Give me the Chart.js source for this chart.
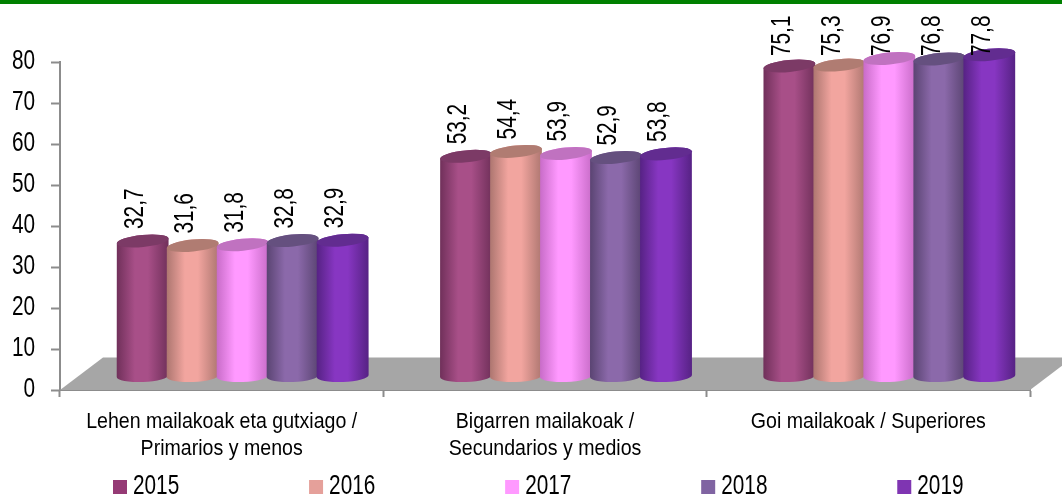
<!DOCTYPE html>
<html><head><meta charset="utf-8">
<style>html,body{margin:0;padding:0;background:#fff;overflow:hidden}
#wrap{position:relative;width:1062px;height:494px}
#band{position:absolute;left:0;top:0;width:1062px;height:4px;background:#008000;z-index:2}
canvas{position:absolute;left:0;top:0}</style>
<script src="https://cdn.jsdelivr.net/npm/chart.js@4"></script></head>
<body><div id="wrap"><div id="band"></div><canvas id="c" width="1062" height="494"></canvas></div>
<script>
const categories=[["Lehen mailakoak eta gutxiago /","Primarios y menos"],["Bigarren mailakoak /","Secundarios y medios"],"Goi mailakoak / Superiores"];
const years=["2015","2016","2017","2018","2019"];
const v2015=[32.7,53.2,75.1];
const v2016=[31.6,54.4,75.3];
const v2017=[31.8,53.9,76.9];
const v2018=[32.8,52.9,76.8];
const v2019=[32.9,53.8,77.8];
const seriesValues=[v2015,v2016,v2017,v2018,v2019];
const legendColors=["#953a75","#e5a09a","#ff99ff","#8064a2","#7f35b2"];
const centerColors=["#a84f88","#f2a59f","#ff99ff","#8b69aa","#8736c2"];
const edgeColors=["#70305a","#ad7670","#c86cc8","#5a4472","#562284"];
const topColors=["#7c3a66","#b07c72","#c072c0","#65507f","#622c90"];
const FONT="'Liberation Sans',Arial,sans-serif";
const fmt=n=>n.toFixed(1).replace('.',',');

// The reference text is horizontally condensed Arial: squeeze every string about its anchor.
const cv=document.getElementById('c');
const rawCtx=cv.getContext('2d');
const origFill=rawCtx.fillText.bind(rawCtx);
rawCtx.fillText=function(t,x,y){
  const dx=(years.includes(t)&&y>465)?-7.5:0;
  const sx=parseInt(rawCtx.font)>=26?0.77:0.89;
  rawCtx.save();rawCtx.translate(x+dx,y);rawCtx.scale(sx,1);origFill(t,0,0);rawCtx.restore();
};

const floorPlugin={id:'floor',
 beforeLayout(chart){const l=chart.legend;if(l&&!l._patched){l._patched=true;const f=l.fit;
   l.fit=function(){this.maxWidth=3000;f.call(this);this.width=1062;this.height=30;};}},
 afterLayout(chart){const l=chart.legend;if(l){const p=l.options.labels.padding;l.top=473.5-p;l.left=113-p;l.right=3000;}},
 beforeDatasetsDraw(chart){const a=chart.chartArea,c=chart.ctx;c.save();c.fillStyle='#a6a6a6';c.beginPath();
  c.moveTo(a.left,a.bottom);c.lineTo(a.left+43,a.bottom-32.5);c.lineTo(a.right+43,a.bottom-32.5);c.lineTo(a.right,a.bottom);c.closePath();c.fill();c.restore();}
};
const cylPlugin={id:'cyl',
 afterDatasetsDraw(chart){const c=chart.ctx,y0=chart.scales.y.getPixelForValue(0);
  const rx0=26,ry=6;
  chart.data.datasets.forEach((ds,di)=>{
   chart.getDatasetMeta(di).data.forEach((el,i)=>{
    const cx=el.x+21,base=y0-14,top=base-(y0-el.y)*1.007;
    const g=c.createLinearGradient(cx-rx0,0,cx+rx0,0);
    g.addColorStop(0,edgeColors[di]);g.addColorStop(0.35,centerColors[di]);g.addColorStop(0.6,centerColors[di]);g.addColorStop(1,edgeColors[di]);
    c.save();c.fillStyle=g;c.beginPath();
    const rt=-0.1,rb=-0.04;
    c.ellipse(cx,top,rx0,ry,rt,Math.PI,0,false);
    c.ellipse(cx,base,rx0,ry,rb,0,Math.PI,false);
    c.closePath();c.fill();
    c.fillStyle=topColors[di];c.beginPath();c.ellipse(cx,top,rx0,ry,rt,0,Math.PI*2);c.fill();
    c.restore();
   });
  });
  chart.data.datasets.forEach((ds,di)=>{
   chart.getDatasetMeta(di).data.forEach((el,i)=>{
    const cx=el.x+21,base=y0-14,top=base-(y0-el.y)*1.007;
    c.save();c.translate(cx-7,Math.max(top-12,56));c.rotate(-Math.PI/2);c.font="27px "+FONT;c.fillStyle='#000';c.textAlign='left';c.textBaseline='middle';
    c.fillText(fmt(ds.data[i]),0,0);c.restore();
   });
  });
 }
};
new Chart(cv,{
 type:'bar',
 data:{labels:categories,datasets:years.map((y,i)=>({label:y,data:seriesValues[i],backgroundColor:'transparent',borderWidth:0,hoverBackgroundColor:'transparent'}))},
 plugins:[floorPlugin,cylPlugin],
 options:{responsive:false,animation:false,devicePixelRatio:1,
  datasets:{bar:{categoryPercentage:0.773,barPercentage:1}},
  layout:{padding:{left:0,right:32,top:62,bottom:0}},
  scales:{
   x:{afterFit(s){s.height=74;},
      border:{color:'#8c8c8c',width:2},
      grid:{drawOnChartArea:false,drawTicks:true,tickLength:7,tickColor:'#8c8c8c',tickWidth:2,offset:true},
      ticks:{font:{family:FONT,size:22,lineHeight:1.22},color:'#000',padding:12,maxRotation:0,minRotation:0,autoSkip:false}},
   y:{min:0,max:80,afterFit(s){s.width=60;},
      border:{color:'#8c8c8c',width:2},
      grid:{drawOnChartArea:false,tickLength:9,tickColor:'#8c8c8c',tickWidth:2},
      ticks:{stepSize:10,font:{family:FONT,size:27},color:'#000',padding:16}}
  },
  plugins:{tooltip:{enabled:false},title:{display:false},
   legend:{display:true,position:'bottom',align:'start',labels:{boxWidth:14,boxHeight:14,padding:108.5,color:'#000',font:{family:FONT,size:27},
     generateLabels(chart){return years.map((y,i)=>({text:y,fillStyle:legendColors[i],strokeStyle:legendColors[i],lineWidth:0,datasetIndex:i,fontColor:'#000'}));}}}}
 }
});
</script></body></html>
